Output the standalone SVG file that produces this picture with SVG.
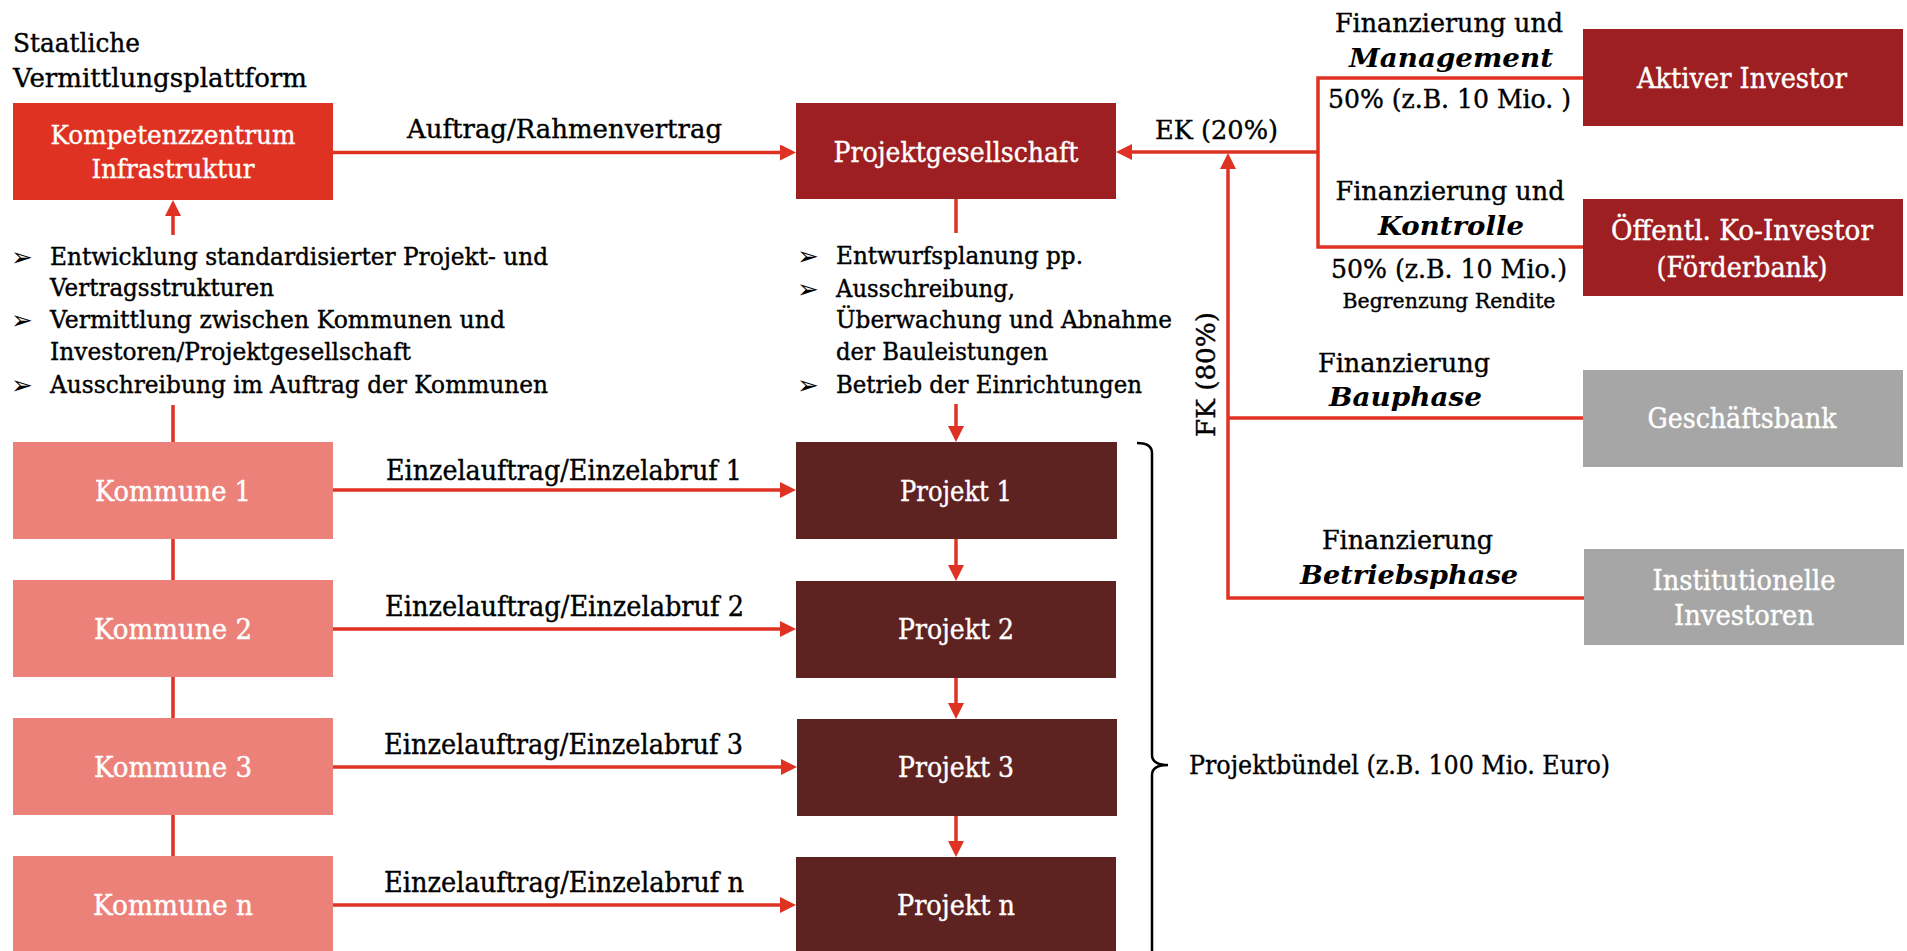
<svg xmlns="http://www.w3.org/2000/svg" width="1907" height="951" viewBox="0 0 1907 951">
<defs>
<style>
.t{font-family:"DejaVu Serif","Liberation Serif",serif;font-size:26px;fill:#000;stroke:#000;stroke-width:0.4px}
.w{fill:#fff;stroke:#fff}
.c{text-anchor:middle}
.bx{font-size:27px}
.s{font-size:23.5px}
.sm{font-size:20.5px}
.bi{font-weight:bold;font-style:italic;stroke-width:0}
.bul{font-family:"DejaVu Sans",sans-serif;font-size:26px;fill:#000}
.ln{stroke:#E03222;stroke-width:3.5;fill:none}
.ar{marker-end:url(#ah)}
.red{fill:#E03222}
.dred{fill:#9E1F21}
.brown{fill:#5E2221}
.pink{fill:#EC8179}
.grey{fill:#A6A6A6}
</style>
<marker id="ah" markerUnits="userSpaceOnUse" markerWidth="16" markerHeight="16" refX="6" refY="8" orient="auto">
<path d="M0,0 L16,8 L0,16 z" fill="#E03222"/>
</marker>
</defs>
<rect width="1907" height="951" fill="#fff"/>

<g id="title">
<text class="t" x="13" y="52" textLength="127" lengthAdjust="spacingAndGlyphs">Staatliche</text>
<text class="t" x="13" y="87" textLength="294" lengthAdjust="spacingAndGlyphs">Vermittlungsplattform</text>
</g>

<g id="connectors">
<path class="ln ar" d="M333,152.5 H786"/>
<path class="ln ar" d="M173,235 V210"/>
<path class="ln" d="M173,405 V442 M173,539 V580 M173,677 V718 M173,815 V856"/>
<path class="ln" d="M956,199 V233"/>
<path class="ln ar" d="M956,404 V432"/>
<path class="ln ar" d="M956,539 V571"/>
<path class="ln ar" d="M956,678 V709"/>
<path class="ln ar" d="M956,816 V847"/>
<path class="ln ar" d="M333,490 H786"/>
<path class="ln ar" d="M333,629 H786"/>
<path class="ln ar" d="M333,767 H787"/>
<path class="ln ar" d="M333,905 H786"/>
<path class="ln ar" d="M1318,152 H1126"/>
<path class="ln" d="M1583,78 H1318 V247 H1583"/>
<path class="ln" d="M1583,418 H1228"/>
<path class="ln ar" d="M1584,598 H1228 V163"/>
<path d="M1137,443 Q1152,443 1152,453 L1152,755 Q1152,765 1168,765 Q1152,765 1152,775 L1152,960" fill="none" stroke="#000" stroke-width="2.5"/>
</g>

<g id="kompetenzzentrum">
<rect class="red" x="13" y="103" width="320" height="97"/>
<text class="t w c" x="173" y="144" textLength="245" lengthAdjust="spacingAndGlyphs">Kompetenzzentrum</text>
<text class="t w c" x="173" y="178" textLength="163" lengthAdjust="spacingAndGlyphs">Infrastruktur</text>
</g>

<g id="label-auftrag">
<text class="t" x="407" y="138" textLength="315" lengthAdjust="spacingAndGlyphs">Auftrag/Rahmenvertrag</text>
</g>

<g id="projektgesellschaft">
<rect class="dred" x="796" y="103" width="320" height="96"/>
<text class="t bx w c" x="956" y="162" textLength="245" lengthAdjust="spacingAndGlyphs">Projektgesellschaft</text>
</g>

<g id="label-ek">
<text class="t" x="1155" y="139" textLength="123" lengthAdjust="spacingAndGlyphs">EK (20%)</text>
</g>

<g id="label-fk">
<text class="t c" transform="translate(1215,374.5) rotate(-90)" x="0" y="0" textLength="125" lengthAdjust="spacingAndGlyphs">FK (80%)</text>
</g>

<g id="bullets-left">
<text class="bul" x="11" y="266">➢</text>
<text class="t s" x="50" y="265" textLength="498" lengthAdjust="spacingAndGlyphs">Entwicklung standardisierter Projekt- und</text>
<text class="t s" x="50" y="296" textLength="224" lengthAdjust="spacingAndGlyphs">Vertragsstrukturen</text>
<text class="bul" x="11" y="329">➢</text>
<text class="t s" x="50" y="328" textLength="455" lengthAdjust="spacingAndGlyphs">Vermittlung zwischen Kommunen und</text>
<text class="t s" x="50" y="360" textLength="361" lengthAdjust="spacingAndGlyphs">Investoren/Projektgesellschaft</text>
<text class="bul" x="11" y="394">➢</text>
<text class="t s" x="50" y="393" textLength="498" lengthAdjust="spacingAndGlyphs">Ausschreibung im Auftrag der Kommunen</text>
</g>

<g id="bullets-middle">
<text class="bul" x="797" y="265">➢</text>
<text class="t s" x="836" y="264" textLength="247" lengthAdjust="spacingAndGlyphs">Entwurfsplanung pp.</text>
<text class="bul" x="797" y="298">➢</text>
<text class="t s" x="836" y="297" textLength="179" lengthAdjust="spacingAndGlyphs">Ausschreibung,</text>
<text class="t s" x="836" y="328" textLength="336" lengthAdjust="spacingAndGlyphs">Überwachung und Abnahme</text>
<text class="t s" x="836" y="360" textLength="212" lengthAdjust="spacingAndGlyphs">der Bauleistungen</text>
<text class="bul" x="797" y="394">➢</text>
<text class="t s" x="836" y="393" textLength="306" lengthAdjust="spacingAndGlyphs">Betrieb der Einrichtungen</text>
</g>

<g id="label-management">
<text class="t c" x="1449" y="32" textLength="228" lengthAdjust="spacingAndGlyphs">Finanzierung und</text>
<text class="t c bi" x="1451" y="67" textLength="204" lengthAdjust="spacingAndGlyphs">Management</text>
<text class="t c" x="1449.5" y="108" textLength="243" lengthAdjust="spacingAndGlyphs">50% (z.B. 10 Mio. )</text>
</g>

<g id="aktiver-investor">
<rect class="dred" x="1583" y="29" width="320" height="97"/>
<text class="t bx w c" x="1742" y="88" textLength="210" lengthAdjust="spacingAndGlyphs">Aktiver Investor</text>
</g>

<g id="label-kontrolle">
<text class="t c" x="1450" y="200" textLength="229" lengthAdjust="spacingAndGlyphs">Finanzierung und</text>
<text class="t c bi" x="1451" y="235" textLength="146" lengthAdjust="spacingAndGlyphs">Kontrolle</text>
<text class="t c" x="1449" y="278" textLength="236" lengthAdjust="spacingAndGlyphs">50% (z.B. 10 Mio.)</text>
<text class="t c sm" x="1449" y="308" textLength="213" lengthAdjust="spacingAndGlyphs">Begrenzung Rendite</text>
</g>

<g id="oeffentl-ko-investor">
<rect class="dred" x="1583" y="199" width="320" height="97"/>
<text class="t bx w c" x="1742" y="240" textLength="262" lengthAdjust="spacingAndGlyphs">Öffentl. Ko-Investor</text>
<text class="t bx w c" x="1742" y="277" textLength="171" lengthAdjust="spacingAndGlyphs">(Förderbank)</text>
</g>

<g id="label-bauphase">
<text class="t c" x="1404" y="372" textLength="172" lengthAdjust="spacingAndGlyphs">Finanzierung</text>
<text class="t c bi" x="1405.5" y="406" textLength="153" lengthAdjust="spacingAndGlyphs">Bauphase</text>
</g>

<g id="geschaeftsbank">
<rect class="grey" x="1583" y="370" width="320" height="97"/>
<text class="t bx w c" x="1742" y="428" textLength="189" lengthAdjust="spacingAndGlyphs">Geschäftsbank</text>
</g>

<g id="label-betriebsphase">
<text class="t c" x="1407.5" y="549" textLength="171" lengthAdjust="spacingAndGlyphs">Finanzierung</text>
<text class="t c bi" x="1409" y="584" textLength="218" lengthAdjust="spacingAndGlyphs">Betriebsphase</text>
</g>

<g id="institutionelle-investoren">
<rect class="grey" x="1584" y="549" width="320" height="96"/>
<text class="t bx w c" x="1744" y="590" textLength="183" lengthAdjust="spacingAndGlyphs">Institutionelle</text>
<text class="t bx w c" x="1744" y="625" textLength="140" lengthAdjust="spacingAndGlyphs">Investoren</text>
</g>

<g id="kommune-1">
<rect class="pink" x="13" y="442" width="320" height="97"/>
<text class="t bx w c" x="173" y="501" textLength="156" lengthAdjust="spacingAndGlyphs">Kommune 1</text>
</g>
<g id="kommune-2">
<rect class="pink" x="13" y="580" width="320" height="97"/>
<text class="t bx w c" x="173" y="639" textLength="158" lengthAdjust="spacingAndGlyphs">Kommune 2</text>
</g>
<g id="kommune-3">
<rect class="pink" x="13" y="718" width="320" height="97"/>
<text class="t bx w c" x="173" y="777" textLength="158" lengthAdjust="spacingAndGlyphs">Kommune 3</text>
</g>
<g id="kommune-n">
<rect class="pink" x="13" y="856" width="320" height="100"/>
<text class="t bx w c" x="173" y="915" textLength="160" lengthAdjust="spacingAndGlyphs">Kommune n</text>
</g>

<g id="labels-einzel">
<text class="t bx" x="386" y="480" textLength="356" lengthAdjust="spacingAndGlyphs">Einzelauftrag/Einzelabruf 1</text>
<text class="t bx" x="385" y="616" textLength="359" lengthAdjust="spacingAndGlyphs">Einzelauftrag/Einzelabruf 2</text>
<text class="t bx" x="384" y="754" textLength="359" lengthAdjust="spacingAndGlyphs">Einzelauftrag/Einzelabruf 3</text>
<text class="t bx" x="384" y="892" textLength="360" lengthAdjust="spacingAndGlyphs">Einzelauftrag/Einzelabruf n</text>
</g>

<g id="projekt-1">
<rect class="brown" x="796" y="442" width="321" height="97"/>
<text class="t bx w c" x="956" y="501" textLength="112" lengthAdjust="spacingAndGlyphs">Projekt 1</text>
</g>
<g id="projekt-2">
<rect class="brown" x="796" y="581" width="320" height="97"/>
<text class="t bx w c" x="956" y="639" textLength="116" lengthAdjust="spacingAndGlyphs">Projekt 2</text>
</g>
<g id="projekt-3">
<rect class="brown" x="797" y="719" width="320" height="97"/>
<text class="t bx w c" x="956" y="777" textLength="116" lengthAdjust="spacingAndGlyphs">Projekt 3</text>
</g>
<g id="projekt-n">
<rect class="brown" x="796" y="857" width="320" height="100"/>
<text class="t bx w c" x="956" y="915" textLength="118" lengthAdjust="spacingAndGlyphs">Projekt n</text>
</g>

<g id="label-projektbuendel">
<text class="t" x="1189" y="774" textLength="421" lengthAdjust="spacingAndGlyphs">Projektbündel (z.B. 100 Mio. Euro)</text>
</g>
</svg>
